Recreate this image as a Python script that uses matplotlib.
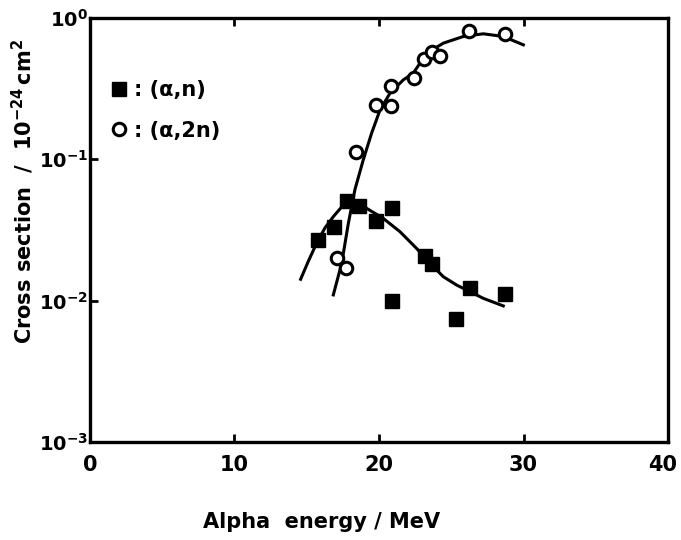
import numpy as np
import matplotlib
matplotlib.use("Agg")
import matplotlib.pyplot as plt
from matplotlib.transforms import ScaledTranslation

# measured points, (alpha,n)
an_energy = [15.8, 16.9, 17.8, 18.6, 19.8, 20.9, 23.2, 23.7, 20.9, 26.3, 25.3, 28.7]
an_sigma = [0.0268, 0.0332, 0.0509, 0.0470, 0.0366, 0.0450, 0.0208, 0.0181,
            0.0100, 0.0123, 0.0074, 0.0111]

# measured points, (alpha,2n)
a2n_energy = [17.1, 17.7, 18.4, 19.8, 20.8, 20.8, 22.4, 23.1, 23.7, 24.2, 26.2, 28.7]
a2n_sigma = [0.0201, 0.0171, 0.113, 0.241, 0.238, 0.330, 0.378, 0.513,
             0.572, 0.538, 0.813, 0.770]

# drawn curves
an_curve_e = [14.58, 15.09, 15.69, 16.26, 16.84, 17.53, 18.13, 18.69, 19.15, 20.30,
              21.45, 22.61, 23.53, 24.45, 25.38, 26.30, 27.22, 28.60]
an_curve_s = [0.0142, 0.0188, 0.0256, 0.0327, 0.0393, 0.0475, 0.0507, 0.0491,
              0.0450, 0.0382, 0.0308, 0.0234, 0.0184, 0.0148, 0.0129, 0.0116,
              0.0104, 0.0092]
a2n_curve_e = [16.84, 17.42, 17.88, 18.34, 18.91, 19.49, 20.07, 20.76, 21.68, 22.37,
               23.30, 24.45, 25.83, 27.22, 28.60, 29.99]
a2n_curve_s = [0.0110, 0.0184, 0.0352, 0.0613, 0.0989, 0.153, 0.223, 0.293, 0.364,
               0.406, 0.562, 0.662, 0.738, 0.771, 0.738, 0.644]

xticks = [0, 10, 20, 30, 40]
yticks = [1e-3, 1e-2, 1e-1, 1]
ytick_labels = [r"$\mathbf{10^{-3}}$", r"$\mathbf{10^{-2}}$",
                r"$\mathbf{10^{-1}}$", r"$\mathbf{10^{0}}$"]

plt.rcParams["font.family"] = "DejaVu Sans"
plt.rcParams["mathtext.fontset"] = "dejavusans"

fig = plt.figure(figsize=(6.81, 5.40), dpi=100)
ax = fig.add_axes([0.132, 0.181, 0.849, 0.786])

ax.plot(an_curve_e, an_curve_s, color="black", lw=2.2)
ax.plot(a2n_curve_e, a2n_curve_s, color="black", lw=2.2)
ax.plot(an_energy, an_sigma, ls="none", marker="s", ms=10, color="black",
        label=": (α,n)")
ax.plot(a2n_energy, a2n_sigma, ls="none", marker="o", ms=9, mfc="white",
        mec="black", mew=2.2, label=": (α,2n)")

ax.set_yscale("log")
ax.set_xlim(0, 40)
ax.set_ylim(1e-3, 1)
ax.set_xticks(xticks)
ax.set_xticklabels([str(t) for t in xticks], fontsize=15, fontweight="bold")
ax.set_yticks(yticks)
ax.set_yticklabels(ytick_labels, fontsize=14)
ax.yaxis.set_minor_locator(matplotlib.ticker.NullLocator())
ax.tick_params(direction="in", length=6, width=2, top=True, right=False)
ax.tick_params(axis="x", pad=9)
ax.tick_params(axis="y", pad=1)
for s in ax.spines.values():
    s.set_linewidth(2.4)

# keep the last x label inside the figure
last = ax.get_xticklabels()[-1]
last.set_transform(last.get_transform() + ScaledTranslation(-4 / 72, 0, fig.dpi_scale_trans))

ax.set_xlabel("Alpha  energy / MeV", fontsize=15, fontweight="bold")
ax.xaxis.set_label_coords(0.40, -0.165)
ax.set_ylabel(r"Cross section  /  $\mathbf{10^{-24}\,cm^2}$", fontsize=15,
              fontweight="bold")
ax.yaxis.set_label_coords(-0.094, 0.59)

ax.legend(loc="upper left", bbox_to_anchor=(0.0, 0.898), frameon=False,
          handlelength=1.0, handletextpad=0.2, labelspacing=1.0,
          prop={"weight": "bold", "size": 15})

fig.savefig("out.png", dpi=100)
